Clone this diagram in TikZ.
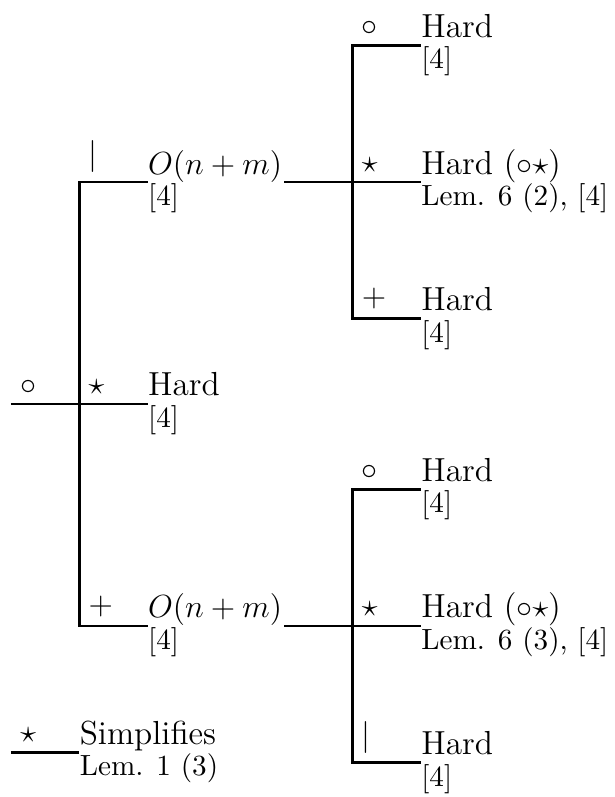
\documentclass[tikz,border=0pt]{standalone}
\usepackage{amsmath}
\usepackage{tikz}

\tikzset{
  branch/.style={line width=1pt},
  sym/.style={above right, font=\fontsize{13}{16}\selectfont},
  res/.style={anchor=base west, inner sep=0pt, yshift=3pt, font=\fontsize{12.5}{15}\selectfont},
  cost/.style={res, font=\large},
  src/.style={anchor=base west, inner sep=0pt, yshift=-8.8pt, font=\fontsize{10.95}{13.6}\selectfont}
}

\begin{document}
\begin{tikzpicture}[x=0.9cm,y=0.9cm]
  \useasboundingbox (-0.161,-5.754) rectangle (8.843,5.915);
  \coordinate (root) at (0,0);
  \coordinate (fork) at (1,0);
  \coordinate (mid) at (2,0);
  \coordinate (up) at (2,3.25);
  \coordinate (down) at (2,-3.25);
  \draw[branch] (root) -- (mid);
  \draw[branch] (up) -- (up -| fork) -- (down -| fork) -- (down);
  \node[sym] (s-root) at (root) {$\circ$};
  \node[sym] (s-mid) at (fork) {$\star$};
  \node[sym] (s-up) at (up -| fork) {$|$};
  \node[sym] (s-down) at (down -| fork) {$+$};
  \node[res] (r-mid) at (mid) {Hard};
  \node[src] (c-mid) at (mid) {[4]};
  \node[cost] (r-up) at (up) {$O(n+m)$};
  \node[src] (c-up) at (up) {[4]};
  \node[cost] (r-down) at (down) {$O(n+m)$};
  \node[src] (c-down) at (down) {[4]};
  \foreach \y/\n/\last/\l in {3.25/up/{$+$}/2, -3.25/down/{$|$}/3} {
    \coordinate (\n-in) at (4,\y);
    \coordinate (\n-fork) at (5,\y);
    \coordinate (\n-mid) at (6,\y);
    \coordinate (\n-hi) at (6,\y+2);
    \coordinate (\n-lo) at (6,\y-2);
    \draw[branch] (\n-in) -- (\n-mid);
    \draw[branch] (\n-hi) -- (\n-hi -| \n-fork) -- (\n-lo -| \n-fork) -- (\n-lo);
    \node[sym] (\n-s-hi) at (\n-hi -| \n-fork) {$\circ$};
    \node[sym] (\n-s-mid) at (\n-fork) {$\star$};
    \node[sym] (\n-s-lo) at (\n-lo -| \n-fork) {\last};
    \node[res] (\n-r-hi) at (\n-hi) {Hard};
    \node[src] (\n-c-hi) at (\n-hi) {[4]};
    \node[res] (\n-r-mid) at (\n-mid) {Hard ($\circ\star$)};
    \node[src] (\n-c-mid) at (\n-mid) {Lem. 6 (\l), [4]};
    \node[res] (\n-r-lo) at (\n-lo) {Hard};
    \node[src] (\n-c-lo) at (\n-lo) {[4]};
  }
  \coordinate (key-in) at (0,-5.1);
  \coordinate (key-out) at (1,-5.1);
  \draw[branch] (key-in) -- (key-out);
  \node[sym] (s-key) at (key-in) {$\star$};
  \node[res] (r-key) at (key-out) {Simplifies};
  \node[src] (c-key) at (key-out) {Lem. 1 (3)};
\end{tikzpicture}
\end{document}
